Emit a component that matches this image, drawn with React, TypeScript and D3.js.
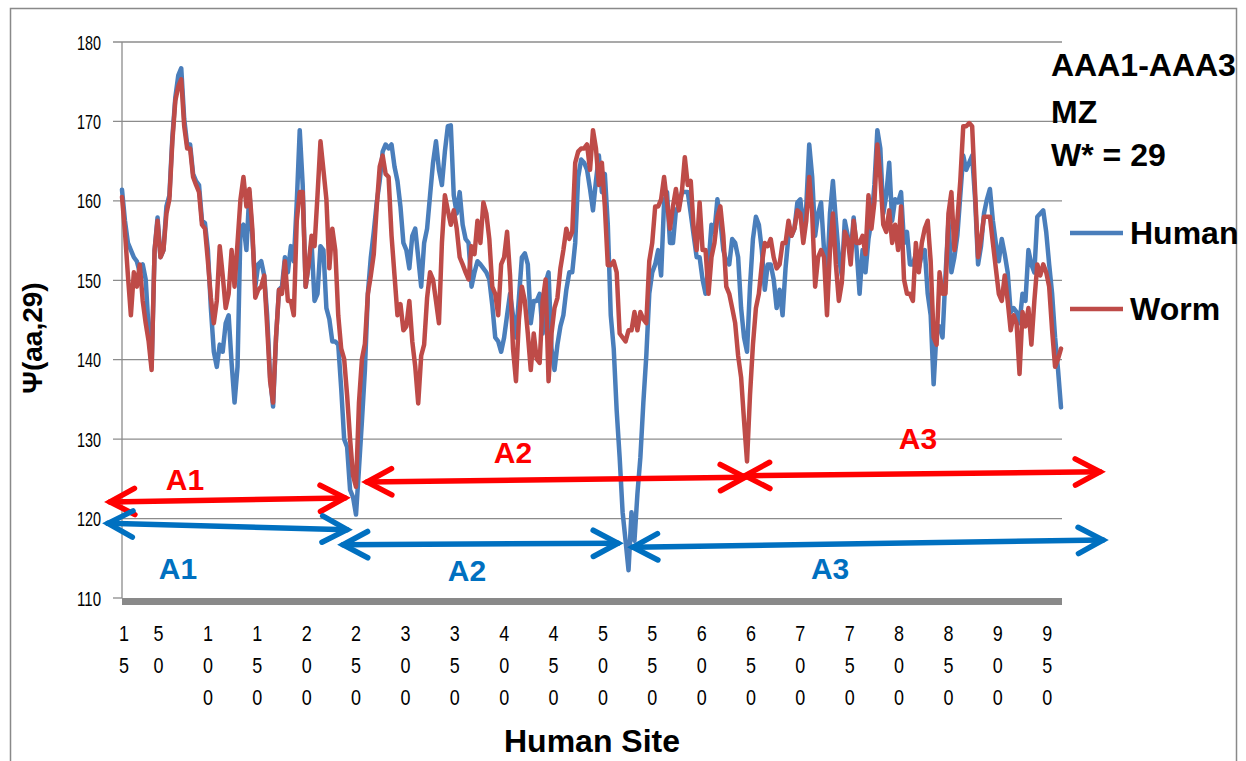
import React from 'react';
import * as d3 from 'd3';

// sites are sampled every 3 positions, starting at 15
const SITE_START = 15;
const SITE_STEP = 3;

const humanValues = [
  161.4, 157.5, 154.7, 153.8, 152.9, 152.4, 151.0, 152.0, 150.1, 143.7, 139.1, 153.8, 157.9, 152.9, 153.8, 159.3,
  160.7, 168.0, 173.0, 175.8, 176.7, 170.3, 167.1, 167.1, 163.4, 162.5, 162.0, 157.5, 157.2, 153.8, 146.5, 141.0,
  139.1, 141.9, 141.0, 144.6, 145.6, 139.6, 134.6, 139.1, 156.5, 157.0, 153.8, 161.1, 155.6, 149.2, 152.0, 152.4,
  150.6, 145.6, 137.8, 134.1, 142.8, 148.8, 149.2, 152.9, 151.0, 154.3, 152.4, 159.8, 168.9, 162.0, 149.2, 152.0,
  154.7, 147.4, 148.3, 154.3, 153.8, 146.5, 145.1, 142.3, 142.3, 141.9, 136.4, 130.0, 129.0, 123.6, 122.7, 120.5,
  126.3, 132.3,
  138.7, 148.3, 152.9, 156.1, 159.8, 162.5, 166.2, 167.1, 166.6, 167.1, 164.3, 162.5, 159.3, 154.7, 153.8, 151.5,
  155.6, 156.5, 152.9, 149.2, 154.7, 156.5, 160.7, 164.8, 167.5, 163.9, 162.0, 166.2, 169.4, 169.5, 160.7, 158.4,
  161.1, 157.0, 155.2, 154.7, 149.2, 151.0, 152.4, 152.0, 151.5, 151.0, 150.1, 146.9, 142.8, 142.3, 141.0, 142.8,
  145.6, 148.3, 145.6, 142.8, 147.8, 152.9, 153.4, 152.0, 144.6, 147.4, 147.4, 148.3, 143.3, 149.7, 151.0, 141.4,
  138.7, 141.9, 144.2, 145.6, 148.8, 151.0, 151.0, 154.7, 163.0, 165.2, 164.8, 163.9, 161.5, 158.8, 162.5, 165.7,
  161.1, 163.4, 157.0, 145.6, 141.4, 133.6, 127.7, 120.8, 117.2, 113.5, 120.8, 117.2, 123.1, 127.7, 134.6, 140.5,
  148.3, 151.0, 152.0, 153.8, 150.6, 159.8, 161.1, 154.7, 154.7, 158.8, 159.3, 161.1, 161.1, 161.1, 158.4, 155.6,
  152.9, 152.9, 150.1, 148.3, 152.0, 157.0, 156.1, 160.2, 157.5, 153.8, 152.4, 152.0, 155.2, 154.7, 152.9, 146.5,
  142.8, 141.0, 149.2, 155.2, 158.0, 157.0, 153.8, 148.8, 152.0, 152.0, 150.1, 146.5, 148.8, 145.6, 151.5, 155.6,
  155.6, 156.5, 159.8, 160.2, 156.5, 159.3, 167.1, 163.0, 155.6, 158.4, 159.8, 153.8, 150.1, 158.4, 162.5, 157.5,
  152.9,
  150.6, 157.5, 155.6, 153.3, 157.9, 153.8, 148.3, 153.8, 151.0, 155.2, 157.5, 162.0, 168.9, 166.6, 158.4, 160.7,
  164.8, 157.5, 160.2, 159.8, 161.1, 154.7, 156.1, 152.0, 152.0, 153.3, 151.5, 153.3, 153.8, 148.3, 145.6, 136.9,
  143.7, 144.2, 142.8, 150.6, 157.5, 151.0, 152.9, 155.6, 160.7, 165.7, 163.9, 164.8, 165.7, 160.2, 152.0, 154.3,
  158.4, 160.2, 161.5, 157.5, 154.7, 152.4, 155.2, 153.3, 151.0, 146.0, 146.5, 146.0, 144.6, 148.3, 147.4, 153.8,
  152.0, 151.0, 158.0, 158.4, 158.8, 156.1, 152.0, 148.3, 142.8, 138.7, 134.0,
];

const wormValues = [
  160.5, 156.1, 150.6, 145.6, 151.0, 149.2, 152.0, 147.4, 144.6, 142.3, 138.7, 153.8, 157.5, 152.9, 153.8, 158.4,
  160.2, 167.5, 172.6, 174.4, 175.3, 169.4, 166.6, 166.6, 163.0, 162.0, 161.1, 157.0, 156.5, 152.4, 147.8, 144.6,
  147.4, 154.3, 150.6, 146.5, 148.3, 153.8, 149.2, 154.7, 160.2, 163.0, 159.3, 161.5, 156.5, 147.8, 148.8, 149.2,
  150.6, 144.2, 137.3, 134.6, 142.8, 148.8, 148.3, 152.4, 147.4, 147.4, 145.6, 157.5, 161.1, 161.1, 149.2, 152.0,
  155.6, 154.3, 160.7, 167.5, 163.9, 160.2, 151.5, 156.5, 153.8, 145.6, 141.4, 140.1, 135.5, 130.0, 125.4, 124.0,
  134.6, 140.1,
  142.0, 148.3, 150.6, 153.3, 159.3, 164.3, 165.7, 163.4, 163.0, 155.6, 150.6, 145.6, 147.0, 143.7, 144.2, 147.4,
  142.3, 139.1, 134.5, 140.5, 141.9, 147.8, 151.0, 150.1, 147.4, 144.6, 154.7, 160.7, 158.8, 157.0, 158.8, 156.5,
  152.9, 152.0, 151.0, 150.1, 154.3, 153.3, 157.5, 154.7, 159.8, 158.4, 155.2, 149.2, 148.3, 145.6, 152.0, 152.9,
  156.1, 150.6, 141.4, 137.3, 145.1, 149.2, 147.4, 143.3, 138.7, 143.3, 140.1, 139.6, 147.4, 150.1, 137.3, 143.3,
  146.5, 147.8, 151.5, 153.8, 156.5, 155.2, 156.1, 164.8, 166.2, 166.6, 166.6, 167.1, 163.9, 168.9, 166.6, 162.0,
  164.8, 159.3, 151.9, 151.9, 152.4, 151.0, 143.3, 142.8, 142.3, 143.7, 143.7, 146.0, 143.7, 146.0, 145.1, 144.6,
  152.4, 154.7, 159.3, 159.3, 160.2, 163.0, 159.8, 156.5, 159.3, 161.5, 158.8, 161.1, 165.5, 162.0, 162.5, 156.5,
  153.8, 159.8, 153.8, 153.8, 148.3, 152.9, 154.7, 158.0, 159.3, 155.6, 149.2, 148.3, 146.5, 144.6, 140.5, 137.8,
  132.3, 127.2, 135.5, 141.9, 146.5, 148.3, 152.0, 154.7, 154.3, 155.2, 152.9, 151.5, 152.0, 154.7, 154.7, 157.5,
  155.6, 156.5, 158.8, 158.4, 154.7, 157.5, 163.0, 158.4, 149.2, 152.9, 153.8, 152.9, 145.6, 153.8, 158.4, 152.0,
  147.4,
  149.7, 156.1, 155.2, 152.0, 157.5, 154.7, 154.7, 155.6, 153.3, 160.7, 156.5, 159.8, 167.1, 163.0, 157.0, 156.1,
  158.8, 154.7, 157.0, 153.8, 159.3, 150.1, 148.3, 148.3, 147.4, 154.7, 151.0, 154.7, 156.5, 157.5, 152.4, 142.8,
  141.9, 151.0, 148.3, 148.3, 158.4, 161.1, 153.8, 157.5, 162.5, 169.4, 169.4, 169.8, 169.4, 161.1, 152.9, 155.2,
  158.0, 158.0, 158.0, 154.7, 151.5, 148.3, 147.4, 150.6, 147.4, 143.7, 145.6, 144.6, 138.2, 146.0, 144.2, 146.5,
  141.9, 147.4, 152.0, 150.6, 152.0, 151.0, 149.2, 143.7, 139.1, 140.1, 141.4,
];

const yTicks = [110, 120, 130, 140, 150, 160, 170, 180];
const xTickSites = [15, 50, 100, 150, 200, 250, 300, 350, 400, 450, 500, 550, 600, 650, 700, 750, 800, 850, 900, 950];

const titleLines = ['AAA1-AAA3', 'MZ', 'W* = 29'];
const seriesNames = ['Human', 'Worm'];
const seriesColors = ['#4A7EBB', '#BE4B48'];

// domain annotations: [site, value] for each end and label
const arrowLabels = ['A1', 'A1', 'A2', 'A2', 'A3', 'A3'];
const arrowColors = ['#FF0000', '#0070C0', '#FF0000', '#0070C0', '#FF0000', '#0070C0'];
const arrowFrom = [[2.8, 122.1], [0.8, 119.4], [263.1, 124.6], [238.8, 116.7], [646.0, 125.4], [532.5, 116.4]];
const arrowTo = [[240.8, 122.6], [242.9, 118.6], [646.0, 125.2], [517.3, 116.9], [1005.5, 125.9], [1008.5, 117.3]];
const arrowLabelAt = [[78.8, 124.9], [71.7, 113.8], [411.0, 128.4], [364.4, 113.5], [821.2, 130.1], [732.1, 113.8]];

const W = 1246;
const H = 761;
const left = 122, right = 1062, top = 42, bottom = 598;

const tickFont = "'Liberation Sans', Arial, sans-serif";
const boldFont = "'Liberation Sans', Arial, sans-serif";

export default function App() {
  const x = d3.scaleLinear().domain([15, 967]).range([left, right]);
  const y = d3.scaleLinear().domain([110, 180]).range([bottom, top]);

  const line = d3.line<number>()
    .x((_, i) => x(SITE_START + i * SITE_STEP))
    .y((d) => y(d));

  const arrowHead = (tip: number[], from: number[]) => {
    const dx = tip[0] - from[0], dy = tip[1] - from[1];
    const len = Math.hypot(dx, dy);
    const ux = dx / len, uy = dy / len;
    const L = 28, a = (28 * Math.PI) / 180;
    const c = Math.cos(a), s = Math.sin(a);
    const p1 = [tip[0] - L * (ux * c - uy * s), tip[1] - L * (uy * c + ux * s)];
    const p2 = [tip[0] - L * (ux * c + uy * s), tip[1] - L * (uy * c - ux * s)];
    return `M${p1[0]},${p1[1]}L${tip[0]},${tip[1]}L${p2[0]},${p2[1]}`;
  };

  return (
    <svg width={W} height={H} style={{ position: 'absolute', left: 0, top: 0, background: '#fff' }}>
      <rect x={10.5} y={8.5} width={1226} height={770} fill="#fff" stroke="#898989" strokeWidth={1.5} />

      {/* gridlines and y ticks */}
      {yTicks.map((t) => (
        <g key={t}>
          <line x1={113} x2={t === 110 ? left : right} y1={y(t)} y2={y(t)} stroke="#8C8C8C" strokeWidth={1.3} />
          <text x={101} y={y(t)} dy="0.36em" textAnchor="end" fontFamily={tickFont} fontSize={21} fill="#000"
            textLength={24} lengthAdjust="spacingAndGlyphs">
            {t}
          </text>
        </g>
      ))}
      <line x1={left} x2={left} y1={top} y2={bottom} stroke="#8C8C8C" strokeWidth={1.3} />
      <rect x={left} y={bottom} width={right - left} height={7} fill="#898989" />

      {/* x tick labels, one character per row */}
      {xTickSites.map((s) =>
        String(s).split('').map((ch, i) => (
          <text key={`${s}-${i}`} x={x(s) + 2} y={633 + i * 32} dy="0.36em" textAnchor="middle"
            fontFamily={tickFont} fontSize={22} fill="#000" textLength={10} lengthAdjust="spacingAndGlyphs">
            {ch}
          </text>
        ))
      )}

      {/* series */}
      {[humanValues, wormValues].map((vals, k) => (
        <path key={k} d={line(vals) || ''} fill="none" stroke={seriesColors[k]} strokeWidth={4.5}
          strokeLinejoin="round" strokeLinecap="round" />
      ))}

      {/* domain arrows */}
      {arrowLabels.map((lab, i) => {
        const p0 = [x(arrowFrom[i][0]), y(arrowFrom[i][1])];
        const p1 = [x(arrowTo[i][0]), y(arrowTo[i][1])];
        return (
          <g key={i} stroke={arrowColors[i]} strokeWidth={5.5} fill="none" strokeLinecap="round" strokeLinejoin="miter">
            <path d={`M${p0[0]},${p0[1]}L${p1[0]},${p1[1]}`} />
            <path d={arrowHead(p1, p0)} />
            <path d={arrowHead(p0, p1)} />
            <text x={x(arrowLabelAt[i][0])} y={y(arrowLabelAt[i][1])} dy="0.36em" textAnchor="middle"
              stroke="none" fill={arrowColors[i]} fontFamily={boldFont} fontWeight="bold" fontSize={30}>
              {lab}
            </text>
          </g>
        );
      })}

      {/* top-right note */}
      {titleLines.map((t, i) => (
        <text key={t} x={1051} y={[76, 123, 166][i]} fontFamily={boldFont} fontWeight="bold" fontSize={32} fill="#000">
          {t}
        </text>
      ))}

      {/* legend */}
      {seriesNames.map((n, i) => (
        <g key={n}>
          <line x1={1070} x2={1123} y1={233 + i * 76} y2={233 + i * 76} stroke={seriesColors[i]} strokeWidth={4.5} />
          <text x={1130} y={244 + i * 76} fontFamily={boldFont} fontWeight="bold" fontSize={32} fill="#000">{n}</text>
        </g>
      ))}

      {/* axis titles */}
      <text transform="translate(42,338) rotate(-90)" textAnchor="middle" fontFamily={boldFont} fontWeight="bold"
        fontSize={28} fill="#000">Ψ(aa,29)</text>
      <text x={592} y={752} textAnchor="middle" fontFamily={boldFont} fontWeight="bold" fontSize={32} fill="#000">
        Human Site
      </text>
    </svg>
  );
}
